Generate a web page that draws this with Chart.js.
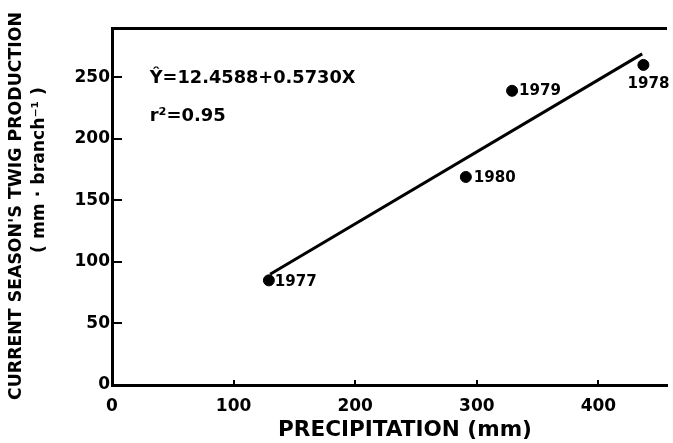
<!DOCTYPE html>
<html>
<head>
<meta charset="utf-8">
<script src="https://cdn.jsdelivr.net/npm/chart.js@4.4.1/dist/chart.umd.min.js"></script>
<style>
  html, body { margin: 0; padding: 0; background: #fff; }
  #wrap { width: 673px; height: 443px; }
</style>
</head>
<body>
<div id="wrap"><canvas id="c" width="673" height="443"></canvas></div>
<script>
// ---- data ----
const years = ['1977', '1978', '1979', '1980'];
const precipitation = [129, 437, 329, 291];      // mm
const twigProduction = [85, 260, 239, 169];      // mm·branch-1
const fitX = [130, 436];                          // regression line ends (as drawn)
const fitY = [90, 269];
const xTicks = [0, 100, 200, 300, 400];
const yTicks = [0, 50, 100, 150, 200, 250];
const xLabel = 'PRECIPITATION (mm)';
const yLabelLines = ["CURRENT SEASON'S TWIG PRODUCTION", '( mm \u00B7 branch\u207B\u00B9 )'];
const equationText = '\u0176=12.4588+0.5730X';
const r2Text = 'r\u00B2=0.95';

const FONT = '"DejaVu Sans", "Liberation Sans", sans-serif';
const INK = '#000';

const pointsData = precipitation.map((x, i) => ({ x: x, y: twigProduction[i] }));
const fitData = fitX.map((x, i) => ({ x: x, y: fitY[i] }));

const labelOffsets = {
  '1977': { dx: 6, dy: 2, align: 'left' },
  '1978': { dx: 5, dy: 19, align: 'center' },
  '1979': { dx: 7, dy: 0, align: 'left' },
  '1980': { dx: 8, dy: 1, align: 'left' }
};

// set a font whose rendered width matches a target width
function fitFont(ctx, text, width, weight) {
  ctx.font = weight + ' 20px ' + FONT;
  const w = ctx.measureText(text).width;
  const size = 20 * width / w;
  ctx.font = weight + ' ' + size.toFixed(2) + 'px ' + FONT;
}

const decorPlugin = {
  id: 'decor',
  afterDraw(chart) {
    const ctx = chart.ctx;
    const xs = chart.scales.x, ys = chart.scales.y;
    ctx.save();
    ctx.fillStyle = INK;
    // point labels
    const meta = chart.getDatasetMeta(0);
    ctx.textBaseline = 'middle';
    meta.data.forEach((el, i) => {
      const o = labelOffsets[years[i]];
      fitFont(ctx, years[i], 42, 'bold');
      ctx.textAlign = o.align;
      ctx.fillText(years[i], el.x + o.dx, el.y + o.dy);
    });
    // equation annotation
    ctx.textAlign = 'left';
    fitFont(ctx, equationText, 206, 'bold');
    ctx.fillText(equationText, xs.getPixelForValue(31), ys.getPixelForValue(249));
    fitFont(ctx, r2Text, 76, 'bold');
    ctx.fillText(r2Text, xs.getPixelForValue(31), ys.getPixelForValue(218));
    // y-axis title (two rotated lines)
    ctx.textAlign = 'center';
    ctx.save();
    ctx.translate(16, 206);
    ctx.rotate(-Math.PI / 2);
    fitFont(ctx, yLabelLines[0], 388, 'bold');
    ctx.fillText(yLabelLines[0], 0, 0);
    ctx.restore();
    ctx.save();
    ctx.translate(40, 170);
    ctx.rotate(-Math.PI / 2);
    fitFont(ctx, yLabelLines[1], 166, 'bold');
    ctx.fillText(yLabelLines[1], 0, 0);
    ctx.restore();
    // x-axis title
    fitFont(ctx, xLabel, 254, 'bold');
    ctx.fillText(xLabel, 405, 430);
    ctx.restore();
  }
};

new Chart(document.getElementById('c'), {
  type: 'scatter',
  data: {
    datasets: [
      {
        data: pointsData,
        backgroundColor: INK,
        borderColor: INK,
        pointRadius: 5.5,
        pointHoverRadius: 5.5,
        showLine: false
      },
      {
        data: fitData,
        showLine: true,
        borderColor: INK,
        borderWidth: 3,
        pointRadius: 0,
        fill: false
      }
    ]
  },
  options: {
    responsive: false,
    animation: false,
    events: [],
    layout: { padding: { top: 28, right: 1, left: 0, bottom: 0 } },
    plugins: { legend: { display: false }, tooltip: { enabled: false } },
    scales: {
      x: {
        type: 'linear',
        position: 'bottom',
        min: 0,
        max: 456,
        afterBuildTicks(s) { s.ticks = xTicks.map(v => ({ value: v })); },
        afterFit(s) { s.height = 443 - 385; },
        border: { display: true, color: INK, width: 3 },
        grid: { drawOnChartArea: false, drawTicks: true, tickLength: -5, color: INK, lineWidth: 2 },
        ticks: { color: INK, font: { family: FONT, size: 17, weight: 'bold' }, padding: 16, maxRotation: 0 }
      },
      xTop: {
        type: 'linear',
        position: 'top',
        display: true,
        afterFit(s) { s.height = 0; },
        border: { display: true, color: INK, width: 3 },
        grid: { drawOnChartArea: false, drawTicks: false },
        ticks: { display: false }
      },
      y: {
        type: 'linear',
        position: 'left',
        min: 0,
        max: 290,
        afterBuildTicks(s) { s.ticks = yTicks.map(v => ({ value: v })); },
        afterFit(s) { s.width = 112; },
        border: { display: true, color: INK, width: 3 },
        grid: { drawOnChartArea: false, drawTicks: true, tickLength: -10, color: INK, lineWidth: 2 },
        ticks: { color: INK, font: { family: FONT, size: 17, weight: 'bold' }, padding: 12 }
      }
    }
  },
  plugins: [decorPlugin]
});
</script>
</body>
</html>
